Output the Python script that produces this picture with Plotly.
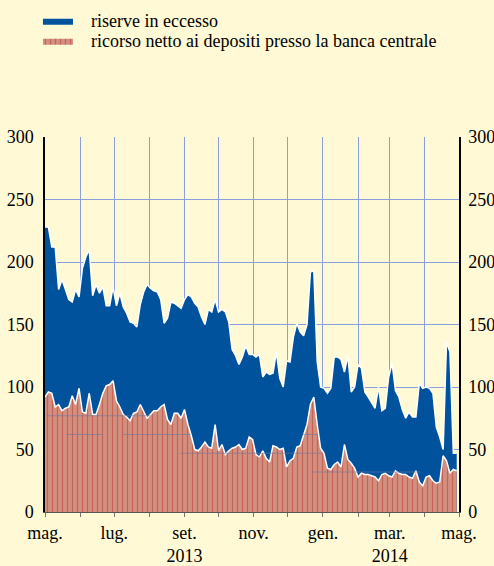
import pandas as pd
import plotly.graph_objects as go

# series sampled every 3 days from 1 May 2013 (billions of euro)
sample_dates = pd.date_range("2013-05-01", periods=122, freq="3D")

excess_reserves = [
    228, 228, 212, 212, 178, 186, 178, 170, 168, 178,
    172, 195, 204, 210, 173, 182, 175, 180, 165, 165,
    180, 165, 175, 164, 159, 152, 151, 148, 166, 176,
    182, 179, 177, 176, 170, 151, 155, 168, 167, 165,
    163, 170, 174, 172, 167, 164, 156, 150, 162, 160,
    170, 160, 162, 160, 152, 130, 125, 118, 124, 133,
    126, 126, 124, 126, 108, 112, 110, 111, 128, 107,
    100, 121, 120, 140, 151, 144, 141, 150, 192, 193,
    120, 100, 99, 95, 99, 124, 124, 122, 112, 125,
    96, 100, 118, 115, 96, 92, 88, 83, 100, 81,
    83, 108, 119, 97, 92, 82, 75, 80, 76, 76,
    103, 99, 100, 99, 95, 68, 60, 50, 136, 128,
    47, 47,
]

deposit_recourse = [
    92, 96, 95, 84, 86, 81, 83, 84, 93, 86,
    99, 80, 79, 95, 78, 78, 86, 95, 101, 102,
    105, 89, 84, 78, 76, 73, 79, 80, 86, 80,
    75, 78, 81, 81, 84, 86, 74, 70, 79, 79,
    75, 82, 70, 61, 50, 49, 52, 56, 52, 51,
    70, 49, 54, 46, 49, 51, 52, 54, 50, 51,
    60, 58, 46, 44, 49, 43, 40, 53, 52, 50,
    51, 36, 41, 43, 52, 53, 61, 70, 86, 92,
    70, 51, 47, 35, 34, 38, 40, 36, 54, 42,
    39, 35, 28, 31, 30, 30, 29, 28, 25, 30,
    31, 29, 28, 33, 31, 30, 30, 28, 27, 33,
    24, 21, 28, 29, 25, 23, 24, 45, 41, 31,
    34, 33,
]

# faint period-average segments
avg_start = ["2013-05-02", "2013-05-20", "2013-07-09", "2013-08-28",
             "2013-12-14", "2013-12-23"]
avg_end = ["2013-08-02", "2013-06-21", "2013-09-06", "2013-12-31",
           "2013-12-27", "2014-03-28"]
avg_level = [77, 62, 62, 47, 62, 32]

series_names = ["riserve in eccesso",
                "ricorso netto ai depositi presso la banca centrale"]

month_ticks = pd.date_range("2013-05-01", "2014-05-01", freq="MS")
month_text = ["mag.", "", "lug.", "", "set.<br>2013", "", "nov.", "",
              "gen.", "", "mar.<br>2014", "", "mag."]

BG = "#FFF9D6"
BLUE = "#00529C"
SALMON = "#D39080"
DARK_RED = "#B5352C"
GRID = "#8A9EE0"
FONT = "'Liberation Serif', 'Times New Roman', 'DejaVu Serif', serif"

red_pattern = {
    "shape": "|",
    "fgcolor": DARK_RED,
    "bgcolor": SALMON,
    "size": 5,
    "solidity": 0.25,
}

fig = go.Figure()

fig.add_trace(
    go.Scatter(
        x=sample_dates,
        y=excess_reserves,
        name=series_names[0],
        mode="lines",
        fill="tozeroy",
        fillcolor=BLUE,
        line={"color": "white", "width": 1.5},
        showlegend=False,
    )
)

fig.add_trace(
    go.Scatter(
        x=sample_dates,
        y=deposit_recourse,
        name=series_names[1],
        mode="lines",
        fill="tozeroy",
        fillcolor=SALMON,
        fillpattern=red_pattern,
        line={"color": "white", "width": 1.5},
        showlegend=False,
    )
)

seg_x, seg_y = [], []
for s, e, v in zip(avg_start, avg_end, avg_level):
    seg_x += [s, e, None]
    seg_y += [v, v, None]

fig.add_trace(
    go.Scatter(
        x=seg_x,
        y=seg_y,
        mode="lines",
        line={"color": "rgba(110,118,160,0.6)", "width": 1},
        showlegend=False,
        hoverinfo="skip",
        yaxis="y2",
    )
)

# legend swatches only; the labels are annotations
fig.add_trace(go.Scatter(x=[None], y=[None], name=" ", mode="lines",
                         fill="tozeroy", fillcolor=BLUE,
                         line={"color": BLUE, "width": 0}, legend="legend"))
fig.add_trace(go.Scatter(x=[None], y=[None], name=" ", mode="lines",
                         fill="tozeroy", fillcolor=SALMON,
                         fillpattern=red_pattern,
                         line={"color": SALMON, "width": 0}, legend="legend2"))

for name, ypos in zip(series_names, [1.309, 1.256]):
    fig.add_annotation(
        x=0.106, y=ypos, xref="paper", yref="paper",
        xanchor="left", yanchor="middle",
        text=name, showarrow=False,
        font={"family": FONT, "size": 18, "color": "black"},
    )

legend_style = {
    "x": -0.017,
    "xanchor": "left",
    "yanchor": "middle",
    "bgcolor": "rgba(0,0,0,0)",
    "font": {"size": 18},
}

fig.update_layout(
    width=494,
    height=566,
    paper_bgcolor=BG,
    plot_bgcolor=BG,
    margin={"l": 45, "r": 35, "t": 137, "b": 54, "autoexpand": False},
    font={"family": FONT, "size": 18, "color": "black"},
    showlegend=True,
    legend={**legend_style, "y": 1.309},
    legend2={**legend_style, "y": 1.256},
    xaxis={
        "type": "date",
        "range": ["2013-05-01", "2014-05-01"],
        "tickvals": month_ticks,
        "ticktext": month_text,
        "tickangle": 0,
        "automargin": False,
        "showgrid": True,
        "gridcolor": GRID,
        "gridwidth": 1,
        "ticks": "outside",
        "ticklen": 4,
        "tickcolor": "#777777",
        "showline": True,
        "linecolor": "#555555",
        "linewidth": 1,
        "zeroline": False,
    },
    yaxis={
        "range": [0, 300],
        "dtick": 50,
        "automargin": False,
        "showgrid": True,
        "gridcolor": GRID,
        "gridwidth": 1,
        "showline": True,
        "linecolor": "black",
        "linewidth": 1.5,
        "zeroline": False,
        "ticks": "",
        "ticklabelstandoff": 6,
    },
    yaxis2={
        "overlaying": "y",
        "side": "right",
        "range": [0, 300],
        "dtick": 50,
        "automargin": False,
        "showgrid": False,
        "showline": True,
        "linecolor": "black",
        "linewidth": 1.5,
        "zeroline": False,
        "ticks": "",
        "ticklabelstandoff": 4,
    },
)

post_js = (
    "document.body.style.margin = '0';"
    "document.querySelectorAll('.annotation-text').forEach(function (t) {"
    "  t.style.fontFamily = \"'Liberation Serif', serif\";"
    "});"
)

fig.write_html(
    "out.html",
    config={"displayModeBar": False},
    post_script=post_js,
)
